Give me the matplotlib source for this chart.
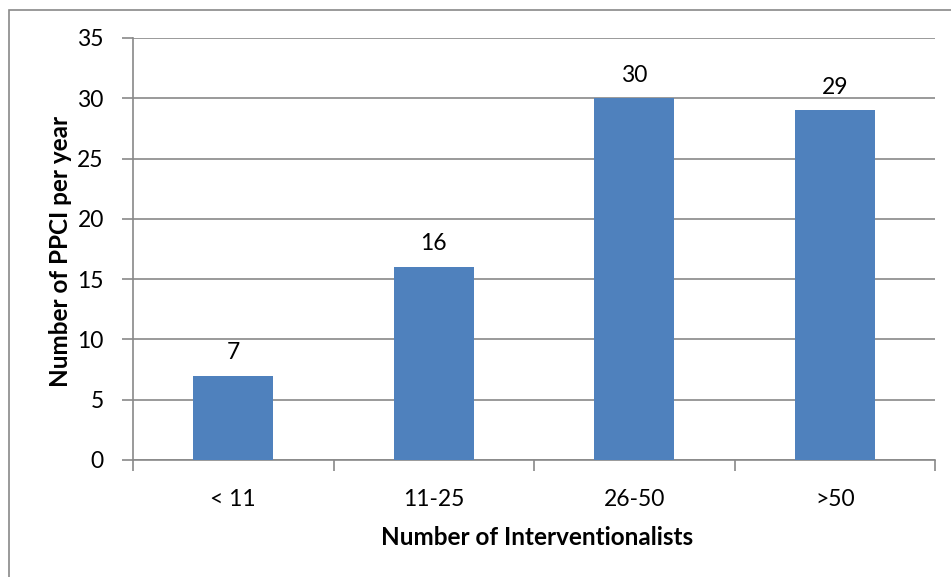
import matplotlib.pyplot as plt
from matplotlib.patches import Rectangle
import numpy as np

categories = ["< 11", "11-25", "26-50", ">50"]
values = [7, 16, 30, 29]
yticks = [0, 5, 10, 15, 20, 25, 30, 35]

plt.rcParams['font.family'] = ['Lato', 'DejaVu Sans']
gray = '#898989'

fig = plt.figure(figsize=(9.51, 5.77), dpi=100)
ax = fig.add_axes([133 / 951, 1 - 460 / 577, (935 - 133) / 951, (460 - 38) / 577])

x = np.arange(len(categories))
bars = ax.bar(x, values, width=0.4, color='#4F81BD', zorder=3)
for b, v in zip(bars, values):
    ax.annotate(str(v), (b.get_x() + b.get_width() / 2, v), xytext=(0, 12),
                textcoords='offset points', ha='center', va='baseline', fontsize=16.5)

ax.set_xlim(-0.5, len(categories) - 0.5)
ax.set_ylim(0, 35)
ax.set_yticks(yticks)
ax.yaxis.grid(True, color=gray, linewidth=1.2, zorder=0)
ax.set_axisbelow(True)

ax.set_xticks(x)
ax.set_xticklabels(categories, fontsize=16.5)
ax.tick_params(axis='x', length=0, pad=21)
ax.set_xticks(np.arange(-0.5, len(categories)), minor=True)
ax.tick_params(axis='x', which='minor', length=8, color=gray, width=1.2)
ax.tick_params(axis='y', length=8, color=gray, width=1.2, labelsize=16.5, pad=13)

for s in ['top', 'right']:
    ax.spines[s].set_visible(False)
for s in ['left', 'bottom']:
    ax.spines[s].set_color(gray)
    ax.spines[s].set_linewidth(1.2)

fig.text(537 / 951, 1 - 545 / 577, "Number of Interventionalists", fontsize=17.5,
         fontweight='bold', ha='center', va='baseline')
fig.text(68 / 951, 1 - 251 / 577, "Number of PPCI per year", fontsize=17.5,
         fontweight='bold', ha='center', va='baseline', rotation=90, rotation_mode='anchor')

fig.patches.append(Rectangle((9 / 951, -0.05), 1.1, 1 - 10 / 577 + 0.05, transform=fig.transFigure,
                             fill=False, edgecolor=gray, linewidth=1.2))

fig.savefig('out.png', dpi=100)
